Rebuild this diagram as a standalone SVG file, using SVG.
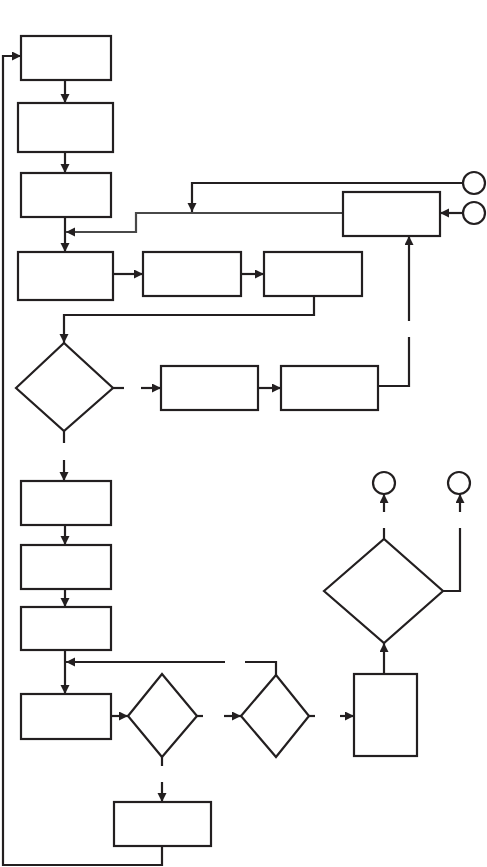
<svg xmlns="http://www.w3.org/2000/svg" width="487" height="867" viewBox="0 0 487 867">
<style>
.n{fill:#fff;stroke:#231f20;stroke-width:2.2}
.c{fill:none;stroke:#231f20;stroke-width:2.2}
.g{stroke:#484848}
</style>
<defs>
<marker id="ah" markerUnits="userSpaceOnUse" markerWidth="10" markerHeight="10" refX="9" refY="4.5" orient="auto"><path d="M0,0 L9,4.5 L0,9 z" fill="#231f20"/></marker>
</defs>
<rect width="487" height="867" fill="#fff"/>
<g id="connectors">
<path class="c" d="M65,80 V103" marker-end="url(#ah)"/>
<path class="c" d="M65,152 V173" marker-end="url(#ah)"/>
<path class="c" d="M65,217 V252" marker-end="url(#ah)"/>
<path class="c g" d="M343,213 H136 V232 H66" marker-end="url(#ah)"/>
<path class="c" d="M463,183 H192 V212" marker-end="url(#ah)"/>
<path class="c" d="M463,213 H440" marker-end="url(#ah)"/>
<path class="c" d="M113,274 H143" marker-end="url(#ah)"/>
<path class="c" d="M241,274 H264" marker-end="url(#ah)"/>
<path class="c" d="M314,296 V315 H64 V343" marker-end="url(#ah)"/>
<path class="c" d="M113,388 H124"/>
<path class="c" d="M141,388 H161" marker-end="url(#ah)"/>
<path class="c" d="M258,388 H281" marker-end="url(#ah)"/>
<path class="c" d="M378,386 H409 V337"/>
<path class="c" d="M409,321 V236" marker-end="url(#ah)"/>
<path class="c" d="M64,431 V443"/>
<path class="c" d="M64,460 V481" marker-end="url(#ah)"/>
<path class="c" d="M65,525 V545" marker-end="url(#ah)"/>
<path class="c" d="M65,589 V607" marker-end="url(#ah)"/>
<path class="c" d="M65,650 V694" marker-end="url(#ah)"/>
<path class="c" d="M276,675 V662 H245"/>
<path class="c" d="M225,662 H66" marker-end="url(#ah)"/>
<path class="c" d="M111,716 H128" marker-end="url(#ah)"/>
<path class="c" d="M197,716 H203"/>
<path class="c" d="M224,716 H241" marker-end="url(#ah)"/>
<path class="c" d="M309,716 H315"/>
<path class="c" d="M340,716 H354" marker-end="url(#ah)"/>
<path class="c" d="M162,757 V766"/>
<path class="c" d="M162,782 V802" marker-end="url(#ah)"/>
<path class="c" d="M162,846 V865 H3 V56 H21" stroke-width="2.6" marker-end="url(#ah)"/>
<path class="c" d="M384,674 V643" marker-end="url(#ah)"/>
<path class="c" d="M384,539 V528"/>
<path class="c" d="M384,512 V494" marker-end="url(#ah)"/>
<path class="c" d="M443,591 H460 V528"/>
<path class="c" d="M460,512 V494" marker-end="url(#ah)"/>
</g>
<g id="box1"><rect class="n" x="21" y="36" width="90" height="44"/></g>
<g id="box2"><rect class="n" x="18" y="103" width="95" height="49"/></g>
<g id="box3"><rect class="n" x="21" y="173" width="90" height="44"/></g>
<g id="boxSide"><rect class="n" x="343" y="192" width="97" height="44"/></g>
<g id="circleA"><circle class="n" cx="474" cy="183" r="11"/></g>
<g id="circleB"><circle class="n" cx="474" cy="213" r="11"/></g>
<g id="boxA"><rect class="n" x="18" y="252" width="95" height="48"/></g>
<g id="boxB"><rect class="n" x="143" y="252" width="98" height="44"/></g>
<g id="boxC"><rect class="n" x="264" y="252" width="98" height="44"/></g>
<g id="diamond1"><polygon class="n" points="16,388 64,343 113,388 64,431"/></g>
<g id="boxD"><rect class="n" x="161" y="366" width="97" height="44"/></g>
<g id="boxE"><rect class="n" x="281" y="366" width="97" height="44"/></g>
<g id="boxF"><rect class="n" x="21" y="481" width="90" height="44"/></g>
<g id="boxG"><rect class="n" x="21" y="545" width="90" height="44"/></g>
<g id="boxH"><rect class="n" x="21" y="607" width="90" height="43"/></g>
<g id="boxI"><rect class="n" x="21" y="694" width="90" height="45"/></g>
<g id="diamond2"><polygon class="n" points="128,716 162,674 197,716 162,757"/></g>
<g id="diamond3"><polygon class="n" points="241,716 276,675 309,716 276,757"/></g>
<g id="boxJ"><rect class="n" x="354" y="674" width="63" height="82"/></g>
<g id="boxK"><rect class="n" x="114" y="802" width="97" height="44"/></g>
<g id="diamond4"><polygon class="n" points="324,591 384,539 443,591 384,643"/></g>
<g id="circleC"><circle class="n" cx="384" cy="483" r="11"/></g>
<g id="circleD"><circle class="n" cx="459" cy="483" r="11"/></g>
</svg>
